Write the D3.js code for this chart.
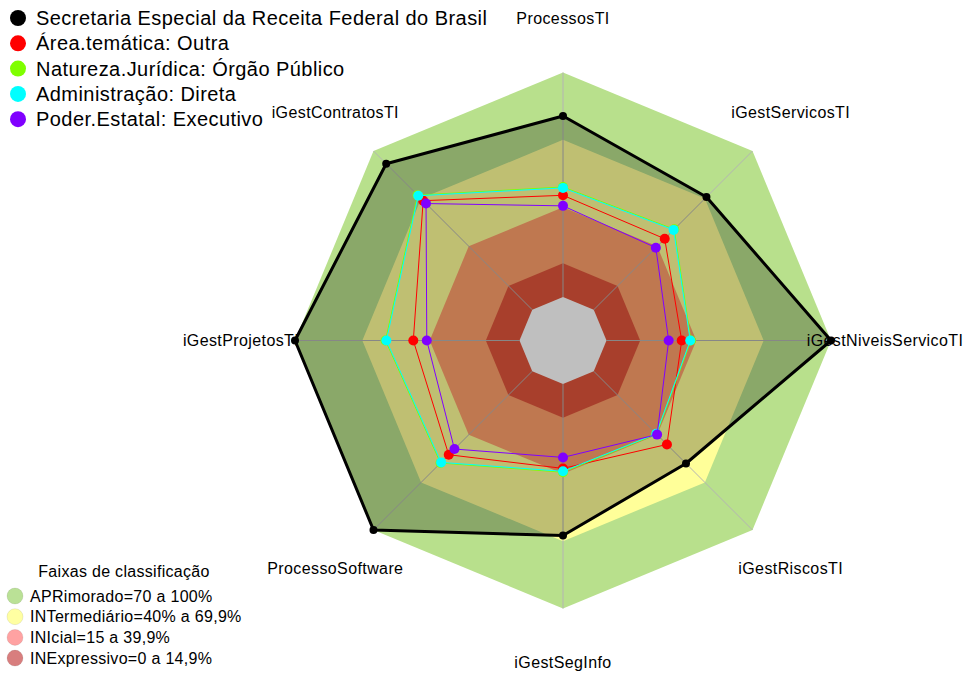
<!DOCTYPE html>
<html>
<head>
<meta charset="utf-8">
<script src="https://cdn.jsdelivr.net/npm/d3@7"></script>
<style>
  html, body { margin: 0; padding: 0; background: #fff; }
  svg { display: block; font-family: "Liberation Sans", Arial, sans-serif; }
</style>
</head>
<body>
<svg id="chart" width="964" height="673"></svg>
<script>
// Radar axes, clockwise from the top
const axes = ["ProcessosTI", "iGestServicosTI", "iGestNiveisServicoTI", "iGestRiscosTI",
              "iGestSegInfo", "ProcessoSoftware", "iGestProjetosTI", "iGestContratosTI"];

// Series (percent values, same order as axes)
const seriesNames = ["Secretaria Especial da Receita Federal do Brasil",
                     "Área.temática: Outra",
                     "Natureza.Jurídica: Órgão Público",
                     "Administração: Direta",
                     "Poder.Estatal: Executivo"];
const receitaFederal = [80.6, 71.0, 100, 58.1, 67.5, 100, 100, 92.0];
const areaTematica   = [45.3, 44.7, 33.5, 46.1, 37.6, 52.6, 47.3, 68.7];
const naturezaJur    = [49.0, 50.7, 37.6, 39.6, 39.3, 57.8, 59.7, 72.2];
const administracao  = [48.6, 50.3, 37.3, 39.4, 38.9, 57.4, 59.3, 71.8];
const poderEstatal   = [40.6, 39.1, 27.7, 39.9, 32.7, 49.0, 41.3, 66.9];
const seriesColors   = ["#000000", "#ff0000", "#7fff00", "#00ffff", "#8000ff"];

// Classification bands
const bandLabels = ["APRimorado=70 a 100%", "INTermediário=40% a 69,9%", "INIcial=15 a 39,9%", "INExpressivo=0 a 14,9%"];
const bandLimits = [100, 70, 40, 15];
const bandFills  = ["#b8e08c", "#ffff99", "#ffa06b", "#e0553b"];
const bandLegendFills = ["rgba(140,205,80,0.6)", "rgba(255,255,100,0.6)", "rgba(255,100,100,0.6)", "rgba(190,40,40,0.6)"];

const svg = d3.select("#chart");
const cx = 563, cy = 340.5;
const r = d3.scaleLinear().domain([0, 100]).range([43.5, 268]);
const angle = d3.scalePoint().domain(axes).range([0, 2 * Math.PI * (axes.length - 1) / axes.length]);

const radial = d3.lineRadial()
  .angle((d, i) => angle(axes[i]))
  .radius(d => r(d))
  .curve(d3.curveLinearClosed);

const g = svg.append("g").attr("transform", `translate(${cx},${cy})`);

// Bands, drawn outermost first
bandLimits.forEach((lim, i) => {
  g.append("path").attr("d", radial(axes.map(() => lim))).attr("fill", bandFills[i]);
});
g.append("path").attr("d", radial(axes.map(() => 0))).attr("fill", "#ffffff");

// Spokes
axes.forEach(a => {
  const t = angle(a);
  g.append("line")
    .attr("x1", r(0) * Math.sin(t)).attr("y1", -r(0) * Math.cos(t))
    .attr("x2", r(100) * Math.sin(t)).attr("y2", -r(100) * Math.cos(t))
    .attr("stroke", "#b4b4b4").attr("stroke-width", 1);
});

// Series
const seriesValues = [receitaFederal, areaTematica, naturezaJur, administracao, poderEstatal];
seriesValues.forEach((vals, s) => {
  const grp = g.append("g");
  grp.append("path")
    .attr("d", radial(vals))
    .attr("fill", s === 0 ? "rgba(0,0,0,0.25)" : "none")
    .attr("stroke", seriesColors[s])
    .attr("stroke-width", s === 0 ? 3 : 1)
    .attr("stroke-linejoin", "round");
  grp.selectAll("circle").data(vals).join("circle")
    .attr("cx", (d, i) => r(d) * Math.sin(angle(axes[i])))
    .attr("cy", (d, i) => -r(d) * Math.cos(angle(axes[i])))
    .attr("r", s === 0 ? 4 : 5)
    .attr("fill", seriesColors[s]);
});

// Axis labels
const labelR = 322;
axes.forEach(a => {
  const t = angle(a);
  g.append("text")
    .attr("x", labelR * Math.sin(t))
    .attr("y", -labelR * Math.cos(t))
    .attr("text-anchor", "middle")
    .attr("dominant-baseline", "central")
    .attr("font-size", 16)
    .attr("letter-spacing", 0.4)
    .attr("fill", "#000")
    .text(a);
});

// Series legend
const leg = svg.append("g");
seriesNames.forEach((n, i) => {
  const y = 18 + i * 25.3;
  leg.append("circle").attr("cx", 18).attr("cy", y).attr("r", 8).attr("fill", seriesColors[i]);
  leg.append("text").attr("x", 36).attr("y", y).attr("dominant-baseline", "central")
    .attr("font-size", 20).attr("letter-spacing", 0.44).attr("fill", "#000").text(n);
});

// Band legend
const bleg = svg.append("g");
bleg.append("text").attr("x", 124).attr("y", 571).attr("text-anchor", "middle")
  .attr("dominant-baseline", "central").attr("font-size", 16).attr("letter-spacing", 0.3)
  .text("Faixas de classificação");
bandLabels.forEach((lbl, i) => {
  const y = 596 + i * 20.7;
  bleg.append("circle").attr("cx", 15).attr("cy", y).attr("r", 8)
    .attr("fill", bandLegendFills[i]).attr("stroke", "rgba(0,0,0,0.08)");
  bleg.append("text").attr("x", 30).attr("y", y).attr("dominant-baseline", "central")
    .attr("font-size", 16).attr("letter-spacing", 0.3).text(lbl);
});
</script>
</body>
</html>
